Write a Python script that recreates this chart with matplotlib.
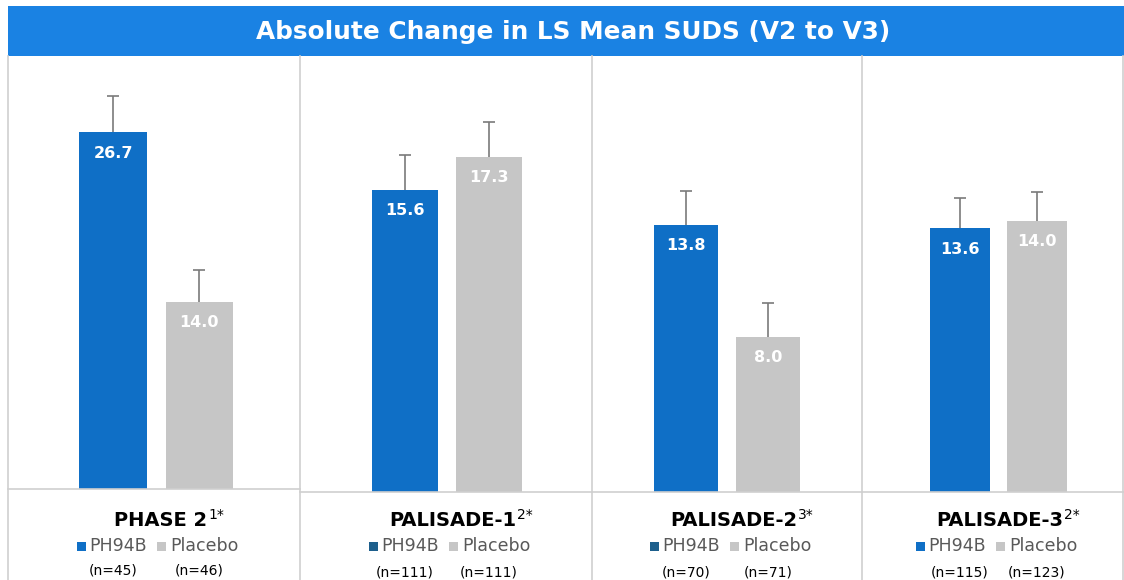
import numpy as np
import matplotlib.pyplot as plt
from matplotlib.patches import Rectangle

# Absolute change in LS mean SUDS, V2 to V3
studies = ['PHASE 2', 'PALISADE-1', 'PALISADE-2', 'PALISADE-3']
refs = ['1*', '2*', '3*', '2*']
ph94b = [26.7, 15.6, 13.8, 13.6]
placebo = [14.0, 17.3, 8.0, 14.0]
ph94b_err = [2.7, 1.8, 1.75, 1.55]
placebo_err = [2.4, 1.8, 1.75, 1.5]
n_ph94b = [45, 111, 70, 115]
n_placebo = [46, 111, 71, 123]

W, H = 1124, 580
BLUE = '#0f6fc6'
GREY = '#c6c6c6'
LINE = '#cfcfcf'
legend_blue = ['#0f6fc6', '#1d5f8c', '#1d5f8c', '#0f6fc6']

fig = plt.figure(figsize=(W / 100, H / 100), dpi=100)
fig.patch.set_facecolor('white')
renderer = fig.canvas.get_renderer()


def fx(px):
    return px / W


def fy(py):
    return 1 - py / H


# panel layout (pixels)
edges = [8, 300, 592, 862, 1124]
base_y = [489, 492, 492, 492]
ylims = [32.4, 22.5, 22.5, 22.5]
xlims = [(-1.22, 2.17), (-1.25, 2.23), (-1.15, 2.15), (-1.27, 2.13)]
top_y = 56

# title banner
fig.patches.append(Rectangle((fx(8), fy(56)), fx(1124 - 8), fy(6) - fy(56),
                             transform=fig.transFigure, facecolor='#1a82e3',
                             edgecolor='none', zorder=0))
fig.text(fx(573), fy(32), 'Absolute Change in LS Mean SUDS (V2 to V3)',
         color='white', fontsize=17.8, fontweight='bold', ha='center', va='center')

for i in range(4):
    x0, x1 = edges[i], edges[i + 1]
    ax = fig.add_axes([fx(x0), fy(base_y[i]), fx(x1 - x0), fy(top_y) - fy(base_y[i])])
    ax.set_xlim(*xlims[i])
    ax.set_ylim(0, ylims[i])
    ax.axis('off')
    pos = np.arange(2)
    vals = np.array([ph94b[i], placebo[i]])
    errs = np.array([ph94b_err[i], placebo_err[i]])
    ax.bar(pos, vals, width=0.78, color=[BLUE, GREY], zorder=2)
    # upper-only error bars
    ax.vlines(pos, vals, vals + errs, color='#7a7a7a', lw=1.2, zorder=1)
    ax.plot(pos, vals + errs, ls='none', marker='_', ms=8, mew=1.2,
            color='#7a7a7a', zorder=1)
    scale = ylims[i] / (base_y[i] - top_y)
    for p, v in zip(pos, vals):
        ax.text(p, v - 21 * scale, f'{v:.1f}', color='white', fontsize=11.5,
                fontweight='bold', ha='center', va='center')

    # panel borders
    fig.add_artist(plt.Line2D([fx(x0), fx(x0)], [fy(56), 0], color=LINE, lw=1.2,
                              transform=fig.transFigure))
    fig.add_artist(plt.Line2D([fx(x0), fx(x1)], [fy(base_y[i]), fy(base_y[i])],
                              color=LINE, lw=1.2, transform=fig.transFigure))

    cx = (x0 + x1) / 2

    # study name with superscript reference
    main = fig.text(0, fy(521), studies[i], fontsize=14, fontweight='bold',
                    ha='left', va='center', color='black')
    sup = fig.text(0, fy(515), refs[i], fontsize=10, ha='left', va='center',
                   color='black')
    wm = main.get_window_extent(renderer).width
    ws = sup.get_window_extent(renderer).width
    start = cx + 15 - (wm + ws + 1) / 2
    main.set_x(fx(start))
    sup.set_x(fx(start + wm + 1))

    # legend row
    lx = cx - 77
    fig.patches.append(Rectangle((fx(lx), fy(551)), fx(9), fy(542) - fy(551),
                                 transform=fig.transFigure, facecolor=legend_blue[i],
                                 edgecolor='none'))
    fig.text(fx(lx + 12), fy(546), 'PH94B', color='#595959', fontsize=12.5,
             ha='left', va='center')
    fig.patches.append(Rectangle((fx(lx + 80), fy(551)), fx(9), fy(542) - fy(551),
                                 transform=fig.transFigure, facecolor=GREY,
                                 edgecolor='none'))
    fig.text(fx(lx + 93), fy(546), 'Placebo', color='#595959', fontsize=12.5,
             ha='left', va='center')

    # n labels under the bars
    for p, n in zip(pos, [n_ph94b[i], n_placebo[i]]):
        ax.annotate(f'(n={n})', xy=(p, 0), xycoords='data', xytext=(0, -81),
                    textcoords='offset pixels', fontsize=10, ha='center',
                    va='center', color='black', annotation_clip=False)

fig.add_artist(plt.Line2D([fx(1123), fx(1123)], [fy(56), 0], color=LINE, lw=1.2,
                          transform=fig.transFigure))

fig.savefig('out.png', dpi=100)
